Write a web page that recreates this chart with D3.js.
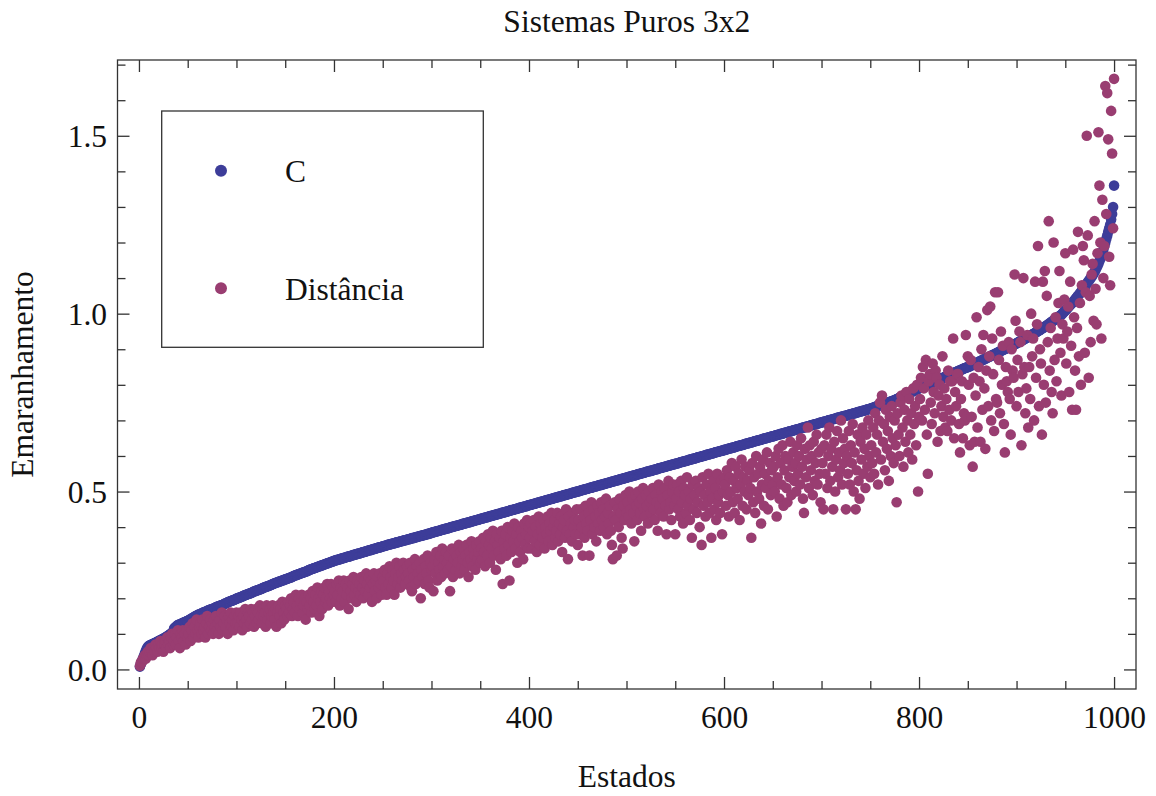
<!DOCTYPE html>
<html>
<head>
<meta charset="utf-8">
<script src="https://cdn.jsdelivr.net/npm/d3@7"></script>
<style>
  body { margin: 0; background: #fff; }
  text { font-family: "Liberation Serif", "Times New Roman", serif; fill: #111; }
</style>
</head>
<body>
<div class="svg-content"></div>
<script>
const chartTitle = "Sistemas Puros 3x2";
const xLabel = "Estados";
const yLabel = "Emaranhamento";
const seriesNames = ["C", "Distância"];
const seriesColors = ["#3d3d99", "#993d71"];

const xTicks = [0, 200, 400, 600, 800, 1000];
const xMinorTicks = [50, 100, 150, 250, 300, 350, 450, 500, 550, 650, 700, 750, 850, 900, 950];
const yTicks = [0.0, 0.5, 1.0, 1.5];
const yTickLabels = ["0.0", "0.5", "1.0", "1.5"];
const yMinorTicks = [0.1, 0.2, 0.3, 0.4, 0.6, 0.7, 0.8, 0.9, 1.1, 1.2, 1.3, 1.4, 1.6, 1.7];

// C, one value per state (1..1000), sorted
const valuesC = [
  0.008,0.015,0.022,0.030,0.037,0.045,0.052,0.058,0.063,0.066,0.068,0.069,0.070,0.071,0.073,0.074,0.075,0.077,0.078,0.080,0.081,0.082,0.084,0.085,0.087,
  0.088,0.090,0.091,0.093,0.095,0.097,0.099,0.101,0.103,0.105,0.115,0.118,0.120,0.123,0.125,0.126,0.127,0.128,0.129,0.131,0.132,0.133,0.134,0.136,0.137,
  0.138,0.140,0.141,0.143,0.145,0.146,0.148,0.150,0.151,0.153,0.154,0.155,0.156,0.157,0.159,0.160,0.161,0.162,0.163,0.165,0.166,0.167,0.168,0.169,0.170,
  0.171,0.172,0.173,0.175,0.176,0.177,0.178,0.179,0.180,0.181,0.182,0.183,0.185,0.186,0.187,0.189,0.190,0.191,0.192,0.193,0.194,0.195,0.196,0.198,0.199,
  0.200,0.201,0.202,0.203,0.204,0.205,0.207,0.208,0.209,0.210,0.211,0.212,0.213,0.214,0.215,0.216,0.218,0.219,0.220,0.221,0.222,0.223,0.224,0.225,0.226,
  0.227,0.229,0.230,0.231,0.232,0.233,0.234,0.235,0.236,0.237,0.238,0.240,0.241,0.242,0.243,0.244,0.245,0.246,0.247,0.248,0.249,0.250,0.251,0.252,0.253,
  0.254,0.255,0.256,0.257,0.258,0.259,0.260,0.262,0.263,0.264,0.265,0.266,0.267,0.268,0.269,0.270,0.271,0.272,0.273,0.274,0.275,0.276,0.277,0.279,0.280,
  0.281,0.282,0.283,0.284,0.285,0.286,0.287,0.288,0.289,0.290,0.291,0.292,0.293,0.294,0.295,0.296,0.297,0.298,0.299,0.300,0.301,0.302,0.303,0.304,0.305,
  0.306,0.307,0.308,0.308,0.309,0.310,0.311,0.312,0.313,0.313,0.314,0.315,0.316,0.317,0.317,0.318,0.319,0.320,0.321,0.322,0.322,0.323,0.324,0.325,0.326,
  0.326,0.327,0.328,0.329,0.330,0.330,0.331,0.332,0.333,0.334,0.335,0.335,0.336,0.337,0.338,0.339,0.339,0.340,0.341,0.342,0.343,0.343,0.344,0.345,0.346,
  0.347,0.347,0.348,0.349,0.350,0.351,0.351,0.352,0.353,0.354,0.354,0.355,0.356,0.357,0.357,0.358,0.359,0.360,0.360,0.361,0.362,0.363,0.363,0.364,0.365,
  0.366,0.366,0.367,0.368,0.369,0.369,0.370,0.371,0.372,0.372,0.373,0.374,0.375,0.375,0.376,0.377,0.378,0.378,0.379,0.380,0.381,0.381,0.382,0.383,0.384,
  0.385,0.386,0.386,0.387,0.388,0.389,0.389,0.390,0.391,0.392,0.393,0.393,0.394,0.395,0.396,0.396,0.397,0.398,0.399,0.400,0.400,0.401,0.402,0.403,0.403,
  0.404,0.405,0.406,0.406,0.407,0.408,0.409,0.410,0.410,0.411,0.412,0.413,0.413,0.414,0.415,0.416,0.417,0.417,0.418,0.419,0.420,0.420,0.421,0.422,0.423,
  0.424,0.424,0.425,0.426,0.427,0.427,0.428,0.429,0.430,0.431,0.431,0.432,0.433,0.434,0.434,0.435,0.436,0.437,0.437,0.438,0.439,0.440,0.441,0.441,0.442,
  0.443,0.444,0.444,0.445,0.446,0.447,0.448,0.448,0.449,0.450,0.451,0.451,0.452,0.453,0.454,0.455,0.455,0.456,0.457,0.458,0.458,0.459,0.460,0.461,0.462,
  0.462,0.463,0.464,0.465,0.465,0.466,0.467,0.468,0.469,0.469,0.470,0.471,0.472,0.472,0.473,0.474,0.475,0.476,0.476,0.477,0.478,0.479,0.479,0.480,0.481,
  0.482,0.483,0.483,0.484,0.485,0.486,0.486,0.487,0.488,0.489,0.490,0.490,0.491,0.492,0.493,0.493,0.494,0.495,0.496,0.497,0.497,0.498,0.499,0.500,0.500,
  0.501,0.502,0.503,0.504,0.504,0.505,0.506,0.507,0.507,0.508,0.509,0.510,0.511,0.511,0.512,0.513,0.514,0.514,0.515,0.516,0.517,0.518,0.518,0.519,0.520,
  0.521,0.521,0.522,0.523,0.524,0.524,0.525,0.526,0.527,0.528,0.528,0.529,0.530,0.531,0.531,0.532,0.533,0.534,0.535,0.535,0.536,0.537,0.538,0.538,0.539,
  0.540,0.541,0.542,0.542,0.543,0.544,0.545,0.545,0.546,0.547,0.548,0.549,0.549,0.550,0.551,0.552,0.552,0.553,0.554,0.555,0.556,0.556,0.557,0.558,0.558,
  0.559,0.560,0.561,0.562,0.562,0.563,0.564,0.565,0.566,0.566,0.567,0.568,0.569,0.569,0.570,0.571,0.572,0.573,0.573,0.574,0.575,0.576,0.576,0.577,0.578,
  0.579,0.579,0.580,0.581,0.582,0.583,0.583,0.584,0.585,0.586,0.586,0.587,0.588,0.589,0.590,0.590,0.591,0.592,0.593,0.593,0.594,0.595,0.596,0.597,0.597,
  0.598,0.599,0.600,0.600,0.601,0.602,0.603,0.604,0.604,0.605,0.606,0.607,0.607,0.608,0.609,0.610,0.611,0.611,0.612,0.613,0.614,0.614,0.615,0.616,0.617,
  0.617,0.618,0.619,0.620,0.621,0.621,0.622,0.623,0.624,0.624,0.625,0.626,0.627,0.628,0.628,0.629,0.630,0.631,0.631,0.632,0.633,0.634,0.635,0.635,0.636,
  0.637,0.638,0.638,0.639,0.640,0.641,0.642,0.642,0.643,0.644,0.645,0.645,0.646,0.647,0.648,0.649,0.649,0.650,0.651,0.652,0.652,0.653,0.654,0.655,0.655,
  0.656,0.657,0.658,0.659,0.659,0.660,0.661,0.662,0.662,0.663,0.664,0.665,0.666,0.666,0.667,0.668,0.669,0.669,0.670,0.671,0.672,0.673,0.673,0.674,0.675,
  0.676,0.676,0.677,0.678,0.679,0.680,0.680,0.681,0.682,0.683,0.683,0.684,0.685,0.686,0.687,0.687,0.688,0.689,0.690,0.690,0.691,0.692,0.693,0.694,0.694,
  0.695,0.696,0.697,0.697,0.698,0.699,0.700,0.701,0.701,0.702,0.703,0.704,0.704,0.705,0.706,0.707,0.708,0.708,0.709,0.710,0.711,0.711,0.712,0.713,0.713,
  0.714,0.715,0.716,0.717,0.717,0.718,0.719,0.720,0.720,0.721,0.722,0.723,0.724,0.724,0.725,0.726,0.727,0.727,0.728,0.729,0.730,0.731,0.731,0.732,0.733,
  0.734,0.735,0.736,0.737,0.738,0.739,0.740,0.741,0.742,0.743,0.744,0.744,0.745,0.746,0.747,0.748,0.749,0.750,0.751,0.752,0.753,0.754,0.755,0.756,0.757,
  0.758,0.760,0.761,0.762,0.764,0.765,0.766,0.768,0.769,0.770,0.772,0.773,0.774,0.776,0.777,0.778,0.780,0.781,0.782,0.784,0.785,0.786,0.788,0.789,0.790,
  0.791,0.792,0.793,0.795,0.796,0.797,0.798,0.800,0.801,0.802,0.803,0.804,0.806,0.807,0.808,0.809,0.811,0.812,0.813,0.814,0.815,0.817,0.818,0.819,0.820,
  0.822,0.823,0.824,0.825,0.826,0.828,0.829,0.830,0.831,0.833,0.834,0.835,0.836,0.837,0.839,0.840,0.841,0.842,0.843,0.845,0.846,0.847,0.848,0.849,0.850,
  0.851,0.852,0.854,0.855,0.856,0.858,0.859,0.860,0.862,0.863,0.864,0.866,0.867,0.868,0.870,0.871,0.872,0.874,0.875,0.876,0.878,0.879,0.880,0.882,0.883,
  0.884,0.886,0.887,0.888,0.890,0.891,0.893,0.894,0.895,0.897,0.898,0.899,0.901,0.902,0.903,0.905,0.906,0.907,0.909,0.910,0.911,0.913,0.914,0.915,0.917,
  0.918,0.920,0.921,0.923,0.924,0.926,0.927,0.929,0.930,0.932,0.933,0.935,0.936,0.938,0.940,0.941,0.943,0.944,0.946,0.948,0.949,0.951,0.953,0.954,0.956,
  0.958,0.960,0.961,0.963,0.965,0.967,0.969,0.971,0.973,0.975,0.977,0.979,0.981,0.983,0.985,0.987,0.989,0.991,0.993,0.995,0.997,1.000,1.003,1.006,1.009,
  1.012,1.015,1.018,1.021,1.024,1.027,1.030,1.033,1.036,1.040,1.043,1.047,1.050,1.054,1.057,1.061,1.064,1.068,1.072,1.076,1.080,1.084,1.088,1.092,1.096,
  1.100,1.104,1.108,1.113,1.118,1.123,1.129,1.135,1.141,1.148,1.155,1.163,1.171,1.180,1.190,1.200,1.210,1.220,1.230,1.240,1.250,1.265,1.280,1.300,1.360
];

// Distância, same states
const valuesDist = [
  0.01,0.02,0.02,0.03,0.03,0.04,0.03,0.04,0.05,0.04,0.05,0.06,0.05,0.04,0.06,0.05,0.07,0.06,0.05,0.07,0.06,0.08,0.06,0.07,0.05,
  0.07,0.08,0.06,0.09,0.07,0.08,0.06,0.09,0.10,0.07,0.08,0.10,0.07,0.09,0.11,0.08,0.06,0.10,0.09,0.11,0.08,0.10,0.07,0.11,0.09,
  0.10,0.12,0.08,0.11,0.13,0.09,0.12,0.10,0.14,0.11,0.09,0.12,0.13,0.10,0.14,0.11,0.12,0.09,0.13,0.15,0.10,0.12,0.14,0.11,0.13,
  0.10,0.14,0.12,0.15,0.11,0.13,0.10,0.14,0.12,0.16,0.11,0.13,0.15,0.12,0.14,0.10,0.15,0.13,0.16,0.12,0.14,0.11,0.15,0.13,0.16,
  0.13,0.15,0.12,0.16,0.14,0.11,0.15,0.13,0.17,0.14,0.12,0.16,0.15,0.13,0.17,0.14,0.16,0.12,0.15,0.17,0.13,0.16,0.14,0.18,0.15,
  0.13,0.17,0.15,0.16,0.12,0.18,0.14,0.16,0.17,0.13,0.15,0.18,0.16,0.14,0.17,0.12,0.16,0.18,0.15,0.17,0.13,0.19,0.16,0.14,0.18,
  0.17,0.15,0.19,0.16,0.18,0.20,0.15,0.17,0.19,0.16,0.21,0.18,0.15,0.20,0.17,0.19,0.21,0.16,0.18,0.20,0.14,0.19,0.17,0.21,0.18,
  0.20,0.16,0.22,0.19,0.17,0.21,0.18,0.23,0.20,0.15,0.19,0.22,0.17,0.21,0.23,0.19,0.20,0.24,0.18,0.22,0.20,0.24,0.19,0.23,0.21,
  0.22,0.19,0.24,0.21,0.25,0.18,0.23,0.20,0.22,0.25,0.19,0.24,0.21,0.23,0.17,0.25,0.22,0.20,0.24,0.26,0.21,0.23,0.19,0.25,0.22,
  0.24,0.21,0.26,0.23,0.20,0.25,0.22,0.27,0.24,0.21,0.26,0.23,0.25,0.19,0.24,0.27,0.22,0.25,0.20,0.26,0.23,0.27,0.24,0.21,0.26,
  0.25,0.28,0.23,0.21,0.27,0.24,0.29,0.26,0.23,0.28,0.25,0.21,0.27,0.30,0.24,0.26,0.29,0.23,0.27,0.25,0.30,0.28,0.24,0.26,0.29,
  0.27,0.25,0.30,0.23,0.22,0.28,0.26,0.31,0.24,0.29,0.27,0.25,0.30,0.20,0.28,0.26,0.31,0.24,0.29,0.27,0.32,0.25,0.23,0.30,0.28,
  0.29,0.22,0.31,0.27,0.33,0.25,0.30,0.28,0.32,0.26,0.34,0.29,0.31,0.27,0.33,0.30,0.28,0.32,0.22,0.29,0.34,0.26,0.31,0.33,0.28,
  0.32,0.30,0.35,0.27,0.33,0.29,0.31,0.34,0.28,0.32,0.35,0.30,0.26,0.33,0.31,0.36,0.29,0.34,0.32,0.28,0.35,0.31,0.33,0.36,0.30,
  0.34,0.31,0.37,0.33,0.29,0.36,0.32,0.38,0.35,0.30,0.37,0.34,0.39,0.32,0.36,0.28,0.38,0.35,0.33,0.37,0.31,0.39,0.24,0.36,0.34,
  0.38,0.32,0.40,0.35,0.25,0.37,0.33,0.39,0.36,0.41,0.34,0.38,0.30,0.40,0.36,0.33,0.39,0.37,0.31,0.41,0.35,0.38,0.42,0.34,0.40,
  0.37,0.41,0.34,0.39,0.42,0.36,0.40,0.33,0.38,0.43,0.35,0.41,0.39,0.37,0.42,0.34,0.40,0.38,0.43,0.36,0.41,0.39,0.44,0.35,0.40,
  0.42,0.37,0.39,0.44,0.36,0.41,0.38,0.43,0.33,0.40,0.42,0.37,0.45,0.39,0.31,0.43,0.38,0.41,0.36,0.44,0.40,0.42,0.38,0.45,0.35,
  0.42,0.38,0.45,0.40,0.32,0.43,0.37,0.46,0.41,0.39,0.44,0.32,0.42,0.47,0.38,0.45,0.40,0.43,0.36,0.46,0.41,0.44,0.39,0.47,0.42,
  0.45,0.40,0.43,0.48,0.38,0.44,0.41,0.46,0.39,0.35,0.31,0.43,0.47,0.42,0.32,0.45,0.40,0.48,0.44,0.37,0.34,0.46,0.42,0.49,0.44,
  0.47,0.43,0.50,0.45,0.41,0.48,0.44,0.36,0.49,0.46,0.42,0.50,0.47,0.44,0.39,0.48,0.51,0.45,0.43,0.49,0.46,0.41,0.50,0.47,0.44,
  0.48,0.51,0.45,0.42,0.49,0.47,0.39,0.52,0.46,0.44,0.50,0.48,0.43,0.51,0.46,0.38,0.49,0.53,0.45,0.47,0.42,0.50,0.52,0.46,0.38,
  0.48,0.52,0.45,0.50,0.43,0.53,0.47,0.41,0.51,0.49,0.44,0.54,0.46,0.50,0.42,0.48,0.37,0.52,0.45,0.49,0.53,0.44,0.47,0.51,0.40,
  0.50,0.35,0.54,0.46,0.49,0.43,0.52,0.47,0.55,0.44,0.50,0.37,0.48,0.53,0.45,0.51,0.42,0.55,0.47,0.49,0.44,0.53,0.38,0.50,0.54,
  0.52,0.46,0.56,0.49,0.43,0.54,0.50,0.58,0.47,0.53,0.44,0.57,0.51,0.48,0.55,0.42,0.52,0.59,0.46,0.54,0.50,0.57,0.45,0.53,0.49,
  0.56,0.51,0.37,0.58,0.47,0.54,0.44,0.60,0.50,0.55,0.48,0.57,0.41,0.52,0.59,0.46,0.55,0.51,0.61,0.45,0.53,0.58,0.49,0.56,0.52,
  0.57,0.50,0.60,0.43,0.54,0.62,0.48,0.58,0.52,0.63,0.46,0.56,0.60,0.51,0.47,0.59,0.54,0.64,0.49,0.57,0.61,0.53,0.58,0.50,0.63,
  0.55,0.60,0.52,0.65,0.57,0.48,0.44,0.62,0.54,0.59,0.68,0.51,0.63,0.56,0.60,0.49,0.64,0.53,0.58,0.66,0.52,0.61,0.55,0.47,0.62,
  0.58,0.45,0.63,0.55,0.66,0.51,0.60,0.68,0.53,0.62,0.57,0.45,0.64,0.50,0.59,0.67,0.54,0.61,0.56,0.70,0.52,0.65,0.58,0.62,0.45,
  0.60,0.55,0.67,0.52,0.63,0.58,0.69,0.50,0.61,0.45,0.56,0.66,0.53,0.48,0.64,0.59,0.68,0.55,0.62,0.51,0.66,0.57,0.70,0.60,0.54,
  0.63,0.58,0.68,0.55,0.72,0.61,0.66,0.52,0.70,0.75,0.59,0.77,0.64,0.69,0.56,0.73,0.62,0.67,0.53,0.71,0.60,0.74,0.65,0.58,0.70,
  0.63,0.47,0.72,0.66,0.60,0.75,0.77,0.68,0.57,0.73,0.64,0.78,0.70,0.61,0.76,0.66,0.72,0.59,0.79,0.69,0.74,0.63,0.80,0.50,0.71,
  0.76,0.82,0.70,0.85,0.79,0.73,0.87,0.66,0.55,0.81,0.83,0.75,0.69,0.86,0.78,0.72,0.84,0.82,0.64,0.77,0.80,0.67,0.74,0.88,0.71,
  0.79,0.68,0.76,0.67,0.84,0.73,0.81,0.70,0.81,0.93,0.65,0.78,0.74,0.83,0.83,0.69,0.61,0.76,0.81,0.65,0.72,0.70,0.94,0.71,0.88,
  0.80,0.63,0.87,0.71,0.57,0.82,0.64,0.77,0.99,0.68,0.85,0.81,0.64,0.90,0.73,0.94,0.79,0.62,0.84,1.01,0.74,0.88,1.02,0.70,0.93,
  0.83,0.67,1.06,0.76,0.75,1.06,0.87,0.72,0.95,0.80,0.91,0.69,0.61,0.85,0.81,0.78,0.92,0.76,0.66,0.90,0.84,0.82,1.11,0.98,0.74,
  0.87,0.78,0.95,0.92,0.63,0.83,1.10,0.85,0.72,0.79,0.94,0.68,0.85,0.76,1.00,0.88,0.93,0.70,1.09,0.82,0.97,1.19,0.74,0.90,0.86,
  0.66,1.09,0.80,1.12,0.75,1.05,0.92,1.26,0.84,0.96,0.78,0.72,1.20,0.87,0.99,0.81,0.93,1.03,1.12,0.89,0.77,0.97,0.93,1.04,1.17,
  0.86,0.95,1.02,0.78,1.09,0.91,0.73,1.18,0.99,0.84,0.73,0.96,1.23,0.88,1.03,0.80,1.08,1.19,1.15,0.89,1.06,1.50,1.22,0.82,1.05,
  0.92,1.11,1.14,0.98,1.26,1.07,0.97,1.17,1.51,1.36,1.20,0.93,1.32,1.10,1.19,1.64,1.28,1.62,1.49,1.16,1.08,1.57,1.45,1.24,1.66
];

const svgWidth = 1156;
const svgHeight = 796;
const fontSize = "31.5px";

const frame = { left: 117.5, right: 1136, top: 60, bottom: 689 };

let svg = d3.select(".svg-content")
            .append("svg")
            .attr("width", svgWidth)
            .attr("height", svgHeight)
            .style("display", "block")
            .style("background", "#fff");

const xScale = d3.scaleLinear()
                 .domain([-22, 1022.5])
                 .range([frame.left, frame.right]);

const yScale = d3.scaleLinear()
                 .domain([-0.055, 1.713])
                 .range([frame.bottom, frame.top]);

function addTicks(axis, transform) {
  let g = svg.append("g")
             .attr("transform", transform)
             .call(axis);
  g.select(".domain").remove();
  g.selectAll("line")
   .attr("stroke", "#333")
   .attr("stroke-width", 1.3);
  g.selectAll("text")
   .style("font-size", fontSize)
   .style("font-family", "'Liberation Serif', 'Times New Roman', serif")
   .attr("fill", "#111");
  return g;
}

// bottom
let xAxisG = addTicks(d3.axisBottom(xScale).tickValues(xTicks).tickSize(-12).tickFormat(d3.format("d")),
                      "translate(0," + frame.bottom + ")");
xAxisG.selectAll("text").attr("y", 39).attr("dy", null);
addTicks(d3.axisBottom(xScale).tickValues(xMinorTicks).tickSize(-8).tickFormat(""),
         "translate(0," + frame.bottom + ")");

// top
addTicks(d3.axisTop(xScale).tickValues(xTicks).tickSize(-12).tickFormat(""),
         "translate(0," + frame.top + ")");
addTicks(d3.axisTop(xScale).tickValues(xMinorTicks).tickSize(-8).tickFormat(""),
         "translate(0," + frame.top + ")");

// left
let yAxisG = addTicks(d3.axisLeft(yScale).tickValues(yTicks).tickSize(-12).tickPadding(10.5)
                        .tickFormat((d, i) => yTickLabels[i]),
                      "translate(" + frame.left + ",0)");
yAxisG.selectAll("text").attr("dy", "0.35em");
addTicks(d3.axisLeft(yScale).tickValues(yMinorTicks).tickSize(-8).tickFormat(""),
         "translate(" + frame.left + ",0)");

// right
addTicks(d3.axisRight(yScale).tickValues(yTicks).tickSize(-12).tickFormat(""),
         "translate(" + frame.right + ",0)");
addTicks(d3.axisRight(yScale).tickValues(yMinorTicks).tickSize(-8).tickFormat(""),
         "translate(" + frame.right + ",0)");

svg.append("rect")
   .attr("x", frame.left)
   .attr("y", frame.top)
   .attr("width", frame.right - frame.left)
   .attr("height", frame.bottom - frame.top)
   .attr("fill", "none")
   .attr("stroke", "#333")
   .attr("stroke-width", 1.3);

// points: C first, Distância drawn on top
[valuesC, valuesDist].forEach((values, s) => {
  svg.append("g")
     .selectAll("circle")
     .data(values)
     .enter()
     .append("circle")
     .attr("cx", (d, i) => xScale(i + 1))
     .attr("cy", d => yScale(d))
     .attr("r", 5.3)
     .attr("fill", seriesColors[s]);
});

// legend
let legend = svg.append("g");
legend.append("rect")
      .attr("x", 161.7)
      .attr("y", 111)
      .attr("width", 321.6)
      .attr("height", 236.3)
      .attr("fill", "#fff")
      .attr("stroke", "#333")
      .attr("stroke-width", 1.3);

const legendRows = [170.7, 288.3];
seriesNames.forEach((name, s) => {
  legend.append("circle")
        .attr("cx", 221)
        .attr("cy", legendRows[s])
        .attr("r", 6)
        .attr("fill", seriesColors[s]);
  legend.append("text")
        .attr("x", 285)
        .attr("y", legendRows[s] + 11.3)
        .style("font-size", fontSize)
        .text(name);
});

// titles
svg.append("text")
   .attr("x", (frame.left + frame.right) / 2)
   .attr("y", 32)
   .attr("text-anchor", "middle")
   .style("font-size", fontSize)
   .text(chartTitle);

svg.append("text")
   .attr("x", (frame.left + frame.right) / 2)
   .attr("y", 787)
   .attr("text-anchor", "middle")
   .style("font-size", fontSize)
   .text(xLabel);

svg.append("text")
   .attr("transform", "translate(33," + (frame.top + frame.bottom) / 2 + ") rotate(-90)")
   .attr("text-anchor", "middle")
   .style("font-size", fontSize)
   .text(yLabel);
</script>
</body>
</html>
